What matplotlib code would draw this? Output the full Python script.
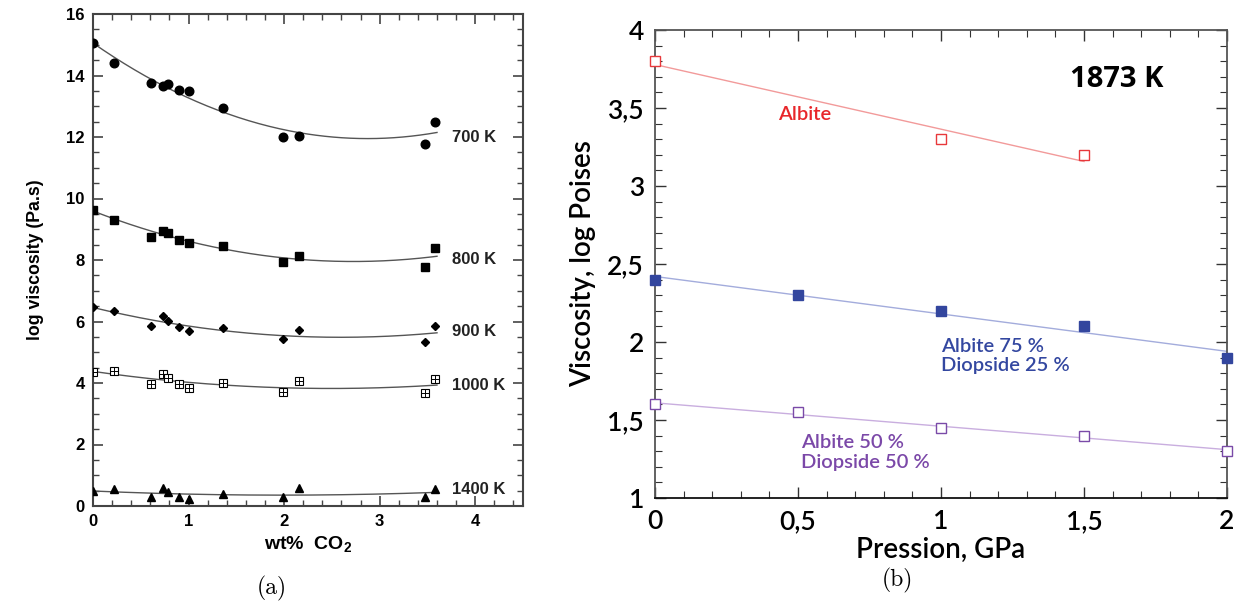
import numpy as np
import matplotlib
matplotlib.use("Agg")
import matplotlib.pyplot as plt
from matplotlib.ticker import MultipleLocator, FuncFormatter

plt.rcParams["mathtext.fontset"] = "custom"
plt.rcParams["mathtext.rm"] = "Liberation Sans:bold"
plt.rcParams["mathtext.bf"] = "Liberation Sans:bold"

# --- panel (a): log viscosity vs wt% CO2 ---
co2 = [0.0, 0.22, 0.61, 0.73, 0.79, 0.90, 1.00, 1.36, 1.99, 2.16, 3.47, 3.58]
visc_700 = [15.05, 14.40, 13.77, 13.66, 13.73, 13.53, 13.50, 12.95, 11.99, 12.03, 11.77, 12.50]
visc_800 = [9.63, 9.30, 8.76, 8.94, 8.89, 8.65, 8.56, 8.47, 7.92, 8.14, 7.78, 8.38]
visc_900 = [6.48, 6.34, 5.85, 6.18, 6.03, 5.81, 5.70, 5.78, 5.42, 5.72, 5.32, 5.85]
visc_1000 = [4.36, 4.39, 3.96, 4.29, 4.15, 3.96, 3.83, 3.99, 3.72, 4.07, 3.66, 4.12]
visc_1400 = [0.49, 0.55, 0.28, 0.57, 0.44, 0.30, 0.22, 0.38, 0.28, 0.57, 0.28, 0.54]
temps = ["700 K", "800 K", "900 K", "1000 K", "1400 K"]
label_y = [12.0, 8.0, 5.67, 3.93, 0.55]

# --- panel (b): viscosity vs pressure at 1873 K ---
p_albite = [0.0, 1.0, 1.5]
v_albite = [3.80, 3.30, 3.20]
p_ab75 = [0.0, 0.5, 1.0, 1.5, 2.0]
v_ab75 = [2.40, 2.30, 2.20, 2.10, 1.90]
p_ab50 = [0.0, 0.5, 1.0, 1.5, 2.0]
v_ab50 = [1.60, 1.55, 1.45, 1.40, 1.30]

SANS = ["Liberation Sans", "DejaVu Sans"]

fig = plt.figure(figsize=(12.34, 6.02), dpi=100)

# ---------------- (a) ----------------
ax1 = fig.add_axes([93 / 1234, 96 / 602, 430 / 1234, 492 / 602])
series = [visc_700, visc_800, visc_900, visc_1000, visc_1400]
x = np.array(co2)
xs = np.linspace(0, 3.6, 200)
for ys in series:
    # courbe de tendance (ajustement quadratique sur les points)
    coef = np.polyfit(x, ys, 2)
    ax1.plot(xs, np.polyval(coef, xs), color="#555555", lw=1.0, zorder=2)

ax1.plot(co2, visc_700, "o", color="black", ms=6.2, zorder=3)
ax1.plot(co2, visc_800, "s", color="black", ms=5.8, zorder=3)
ax1.plot(co2, visc_900, "D", color="black", ms=3.8, zorder=3)
ax1.plot(co2, visc_1000, "s", mfc="white", mec="black", mew=0.8, ms=5.2, zorder=3)
ax1.plot(co2, visc_1000, "+", color="black", mew=0.7, ms=5.2, zorder=4)
ax1.plot(co2, visc_1400, "^", color="black", ms=5.5, zorder=3)

for t, yy in zip(temps, label_y):
    ax1.text(3.76, yy, t, fontsize=12, fontweight="bold", family=SANS,
             va="center", ha="left", color="#222222")

ax1.set_xlim(0, 4.5)
ax1.set_ylim(0, 16)
ax1.xaxis.set_major_locator(MultipleLocator(1))
ax1.xaxis.set_minor_locator(MultipleLocator(0.2))
ax1.yaxis.set_major_locator(MultipleLocator(2))
ax1.yaxis.set_minor_locator(MultipleLocator(0.5))
ax1.tick_params(which="both", direction="in", top=True, right=True, color="#444444")
ax1.tick_params(which="major", length=7, width=1.2, labelsize=12, pad=6)
ax1.tick_params(which="minor", length=4, width=1.0)
for lab in ax1.get_xticklabels() + ax1.get_yticklabels():
    lab.set_fontweight("bold")
    lab.set_family(SANS)
for sp in ax1.spines.values():
    sp.set_color("#444444")
    sp.set_linewidth(1.5)
ax1.set_xlabel("wt%  CO$_\\mathbf{2}$", fontsize=14, fontweight="bold", family=SANS,
               labelpad=4)
ax1.set_ylabel("log viscosity (Pa.s)", fontsize=12.8, fontweight="bold",
               family=SANS, labelpad=16)

# ---------------- (b) ----------------
ax2 = fig.add_axes([655 / 1234, 104 / 602, 572 / 1234, 468 / 602])
lines = [
    (p_albite, v_albite, "#f29a9a", "#e8383b", "white"),
    (p_ab75, v_ab75, "#a3acdc", "#33469e", "#33469e"),
    (p_ab50, v_ab50, "#c9aedf", "#7a4aa8", "white"),
]
for px, py, lc, mc, fc in lines:
    coef = np.polyfit(px, py, 1)
    xl = np.array([min(px), max(px)])
    ax2.plot(xl, np.polyval(coef, xl), color=lc, lw=1.0, zorder=2)
    ax2.plot(px, py, "s", mfc=fc, mec=mc, mew=1.0, ms=7, zorder=3, clip_on=False)

ax2.text(1.615, 3.68, "1873 K", fontsize=21, fontweight="bold", family="Open Sans",
         ha="center", va="center")
ax2.text(0.43, 3.46, "Albite", fontsize=14.5, family="Lato", fontweight="semibold",
         color="#e8262a", ha="left", va="center")
ax2.text(1.0, 1.91, "Albite 75 %\nDiopside 25 %", fontsize=14.5, family="Lato",
         fontweight="semibold", color="#3347a0", ha="left", va="center", linespacing=1.2)
ax2.text(0.51, 1.29, "Albite 50 %\nDiopside 50 %", fontsize=14.5, family="Lato",
         fontweight="semibold", color="#7b48a8", ha="left", va="center", linespacing=1.2)

ax2.set_xlim(0, 2)
ax2.set_ylim(1, 4)
ax2.xaxis.set_major_locator(MultipleLocator(0.5))
ax2.xaxis.set_minor_locator(MultipleLocator(0.1))
ax2.yaxis.set_major_locator(MultipleLocator(0.5))
ax2.yaxis.set_minor_locator(MultipleLocator(0.1))
comma = FuncFormatter(lambda v, pos: f"{v:g}".replace(".", ","))
ax2.xaxis.set_major_formatter(comma)
ax2.yaxis.set_major_formatter(comma)
ax2.tick_params(which="both", direction="in", top=True, right=True, color="#333333")
ax2.tick_params(which="major", length=8, width=1.0, labelsize=19, pad=8)
ax2.tick_params(which="minor", length=5, width=0.8)
for lab in ax2.get_xticklabels() + ax2.get_yticklabels():
    lab.set_family("Lato")
    lab.set_fontweight("semibold")
for sp in ax2.spines.values():
    sp.set_color("#555555")
    sp.set_linewidth(1.3)
ax2.spines["bottom"].set_color("#111111")
ax2.set_xlabel("Pression, GPa", fontsize=20, family="Lato", fontweight="semibold",
               labelpad=2)
ax2.set_ylabel("Viscosity, log Poises", fontsize=20, family="Lato", fontweight="semibold",
               labelpad=8)

# légendes des sous-figures (police Computer Modern)
fig.text(272 / 1234, 1 - 588 / 602, "(a)", family="cmr10", fontsize=17,
         ha="center", va="center")
fig.text(897 / 1234, 1 - 580 / 602, "(b)", family="cmr10", fontsize=17,
         ha="center", va="center")

fig.savefig("out.png", dpi=100)
